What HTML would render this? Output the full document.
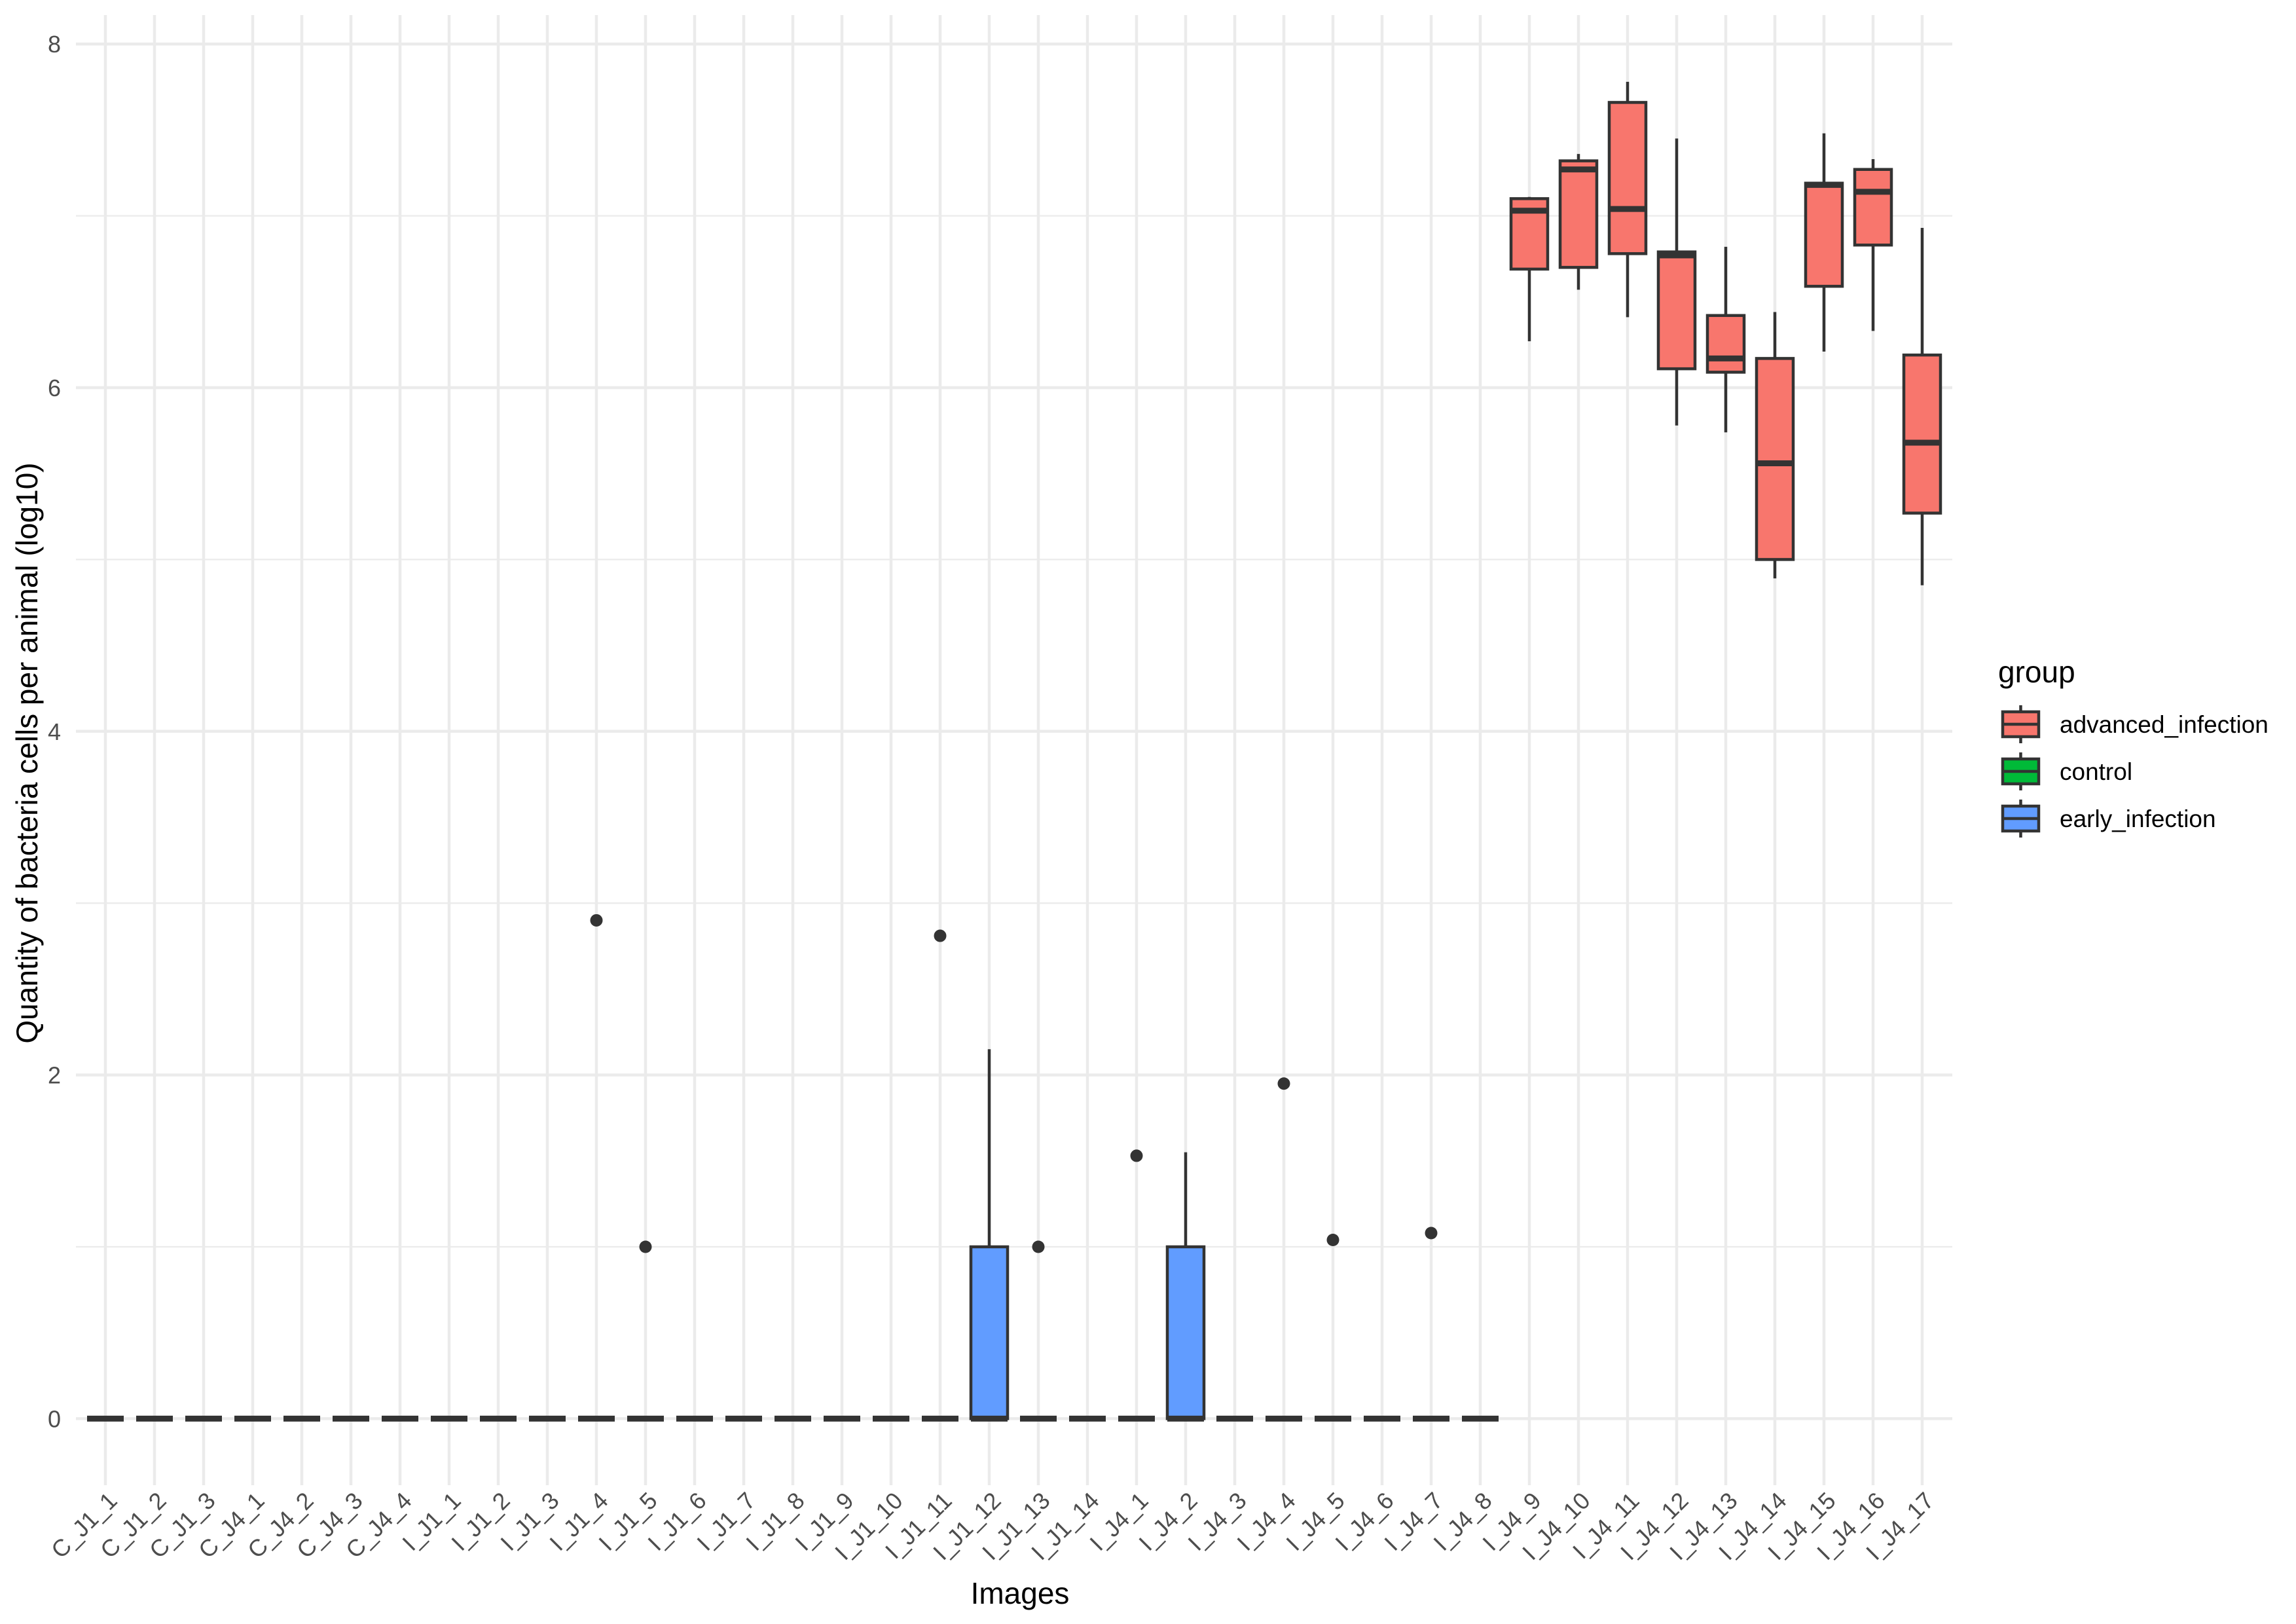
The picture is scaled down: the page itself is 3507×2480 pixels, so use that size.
<!DOCTYPE html>
<html><head><meta charset="utf-8"><style>
html,body{margin:0;padding:0;background:#fff;}
svg{display:block;font-family:"Liberation Sans",Arial,sans-serif;}
</style></head><body>
<svg id="chart" width="3507" height="2480" viewBox="0 0 3507 2480" xmlns="http://www.w3.org/2000/svg">
<g id="grid"></g>
<g id="marks"></g>
<g id="xlabels"></g>
<g id="ylabels"></g>
<text x="1558" y="2449" font-size="46" text-anchor="middle" fill="#000">Images</text>
<text transform="translate(57,1150) rotate(-90)" font-size="46" text-anchor="middle" fill="#000">Quantity of bacteria cells per animal (log10)</text>
<g id="legend">
<text x="3052" y="1042" font-size="46" fill="#000">group</text>
</g>
</svg>
<script>
const categories=["C_J1_1","C_J1_2","C_J1_3","C_J4_1","C_J4_2","C_J4_3","C_J4_4","I_J1_1","I_J1_2","I_J1_3","I_J1_4","I_J1_5","I_J1_6","I_J1_7","I_J1_8","I_J1_9","I_J1_10","I_J1_11","I_J1_12","I_J1_13","I_J1_14","I_J4_1","I_J4_2","I_J4_3","I_J4_4","I_J4_5","I_J4_6","I_J4_7","I_J4_8","I_J4_9","I_J4_10","I_J4_11","I_J4_12","I_J4_13","I_J4_14","I_J4_15","I_J4_16","I_J4_17"];
const groups=["c","c","c","c","c","c","c","e","e","e","e","e","e","e","e","e","e","e","e","e","e","e","e","e","e","e","e","e","e","a","a","a","a","a","a","a","a","a"];
const wLow=[0,0,0,0,0,0,0,0,0,0,0,0,0,0,0,0,0,0,0,0,0,0,0,0,0,0,0,0,0,6.27,6.57,6.41,5.78,5.74,4.89,6.21,6.33,4.85];
const q1=[0,0,0,0,0,0,0,0,0,0,0,0,0,0,0,0,0,0,0,0,0,0,0,0,0,0,0,0,0,6.69,6.70,6.78,6.11,6.09,5.00,6.59,6.83,5.27];
const med=[0,0,0,0,0,0,0,0,0,0,0,0,0,0,0,0,0,0,0,0,0,0,0,0,0,0,0,0,0,7.03,7.27,7.04,6.77,6.17,5.56,7.18,7.14,5.68];
const q3=[0,0,0,0,0,0,0,0,0,0,0,0,0,0,0,0,0,0,1,0,0,0,1,0,0,0,0,0,0,7.10,7.32,7.66,6.79,6.42,6.17,7.19,7.27,6.19];
const wHigh=[0,0,0,0,0,0,0,0,0,0,0,0,0,0,0,0,0,0,2.15,0,0,0,1.55,0,0,0,0,0,0,7.11,7.36,7.78,7.45,6.82,6.44,7.48,7.33,6.93];
const outlierCats=["I_J1_4","I_J1_5","I_J1_11","I_J1_13","I_J4_1","I_J4_4","I_J4_5","I_J4_7"];
const outlierVals=[2.90,1.00,2.81,1.00,1.53,1.95,1.04,1.08];
const yTicks=[0,2,4,6,8];
const yMinor=[1,3,5,7];
const legendKeys=["advanced_infection","control","early_infection"];
const colors={a:"#F8766D",c:"#00BA38",e:"#619CFF"};
const legendColors=["#F8766D","#00BA38","#619CFF"];

const NS="http://www.w3.org/2000/svg";
const PL=116,PR=2982,PT=23,PB=2268;
function xs(i){return 161+i*75.0;}
function ys(v){return 2166.4-v*262.4;}
function mk(tag,attrs,parent){const e=document.createElementNS(NS,tag);for(const k in attrs)e.setAttribute(k,attrs[k]);parent.appendChild(e);return e;}
const grid=document.getElementById('grid'),marks=document.getElementById('marks'),xl=document.getElementById('xlabels'),yl=document.getElementById('ylabels'),lg=document.getElementById('legend');

yMinor.forEach(v=>{const l=mk('line',{x1:PL,x2:PR,y1:ys(v),y2:ys(v),stroke:'#ebebeb','stroke-width':2.3},grid);

});
yTicks.forEach(v=>{const l=mk('line',{x1:PL,x2:PR,y1:ys(v),y2:ys(v),stroke:'#ebebeb','stroke-width':4.5},grid);


const t=mk('text',{x:93,y:ys(v)+13,'font-size':36,'text-anchor':'end',fill:'#4d4d4d'},yl);t.textContent=v;

});
categories.forEach((c,i)=>{const l=mk('line',{x1:xs(i),x2:xs(i),y1:PT,y2:PB,stroke:'#ebebeb','stroke-width':4.5},grid);


const t=mk('text',{transform:`translate(${xs(i)+20},${2294}) rotate(-45)`,'font-size':36,'text-anchor':'end',fill:'#4d4d4d'},xl);
t.textContent=c;

});

const bw=56;
categories.forEach((c,i)=>{
 const g=mk('g',{},marks);
 
 
 const x=xs(i);
 mk('line',{x1:x,x2:x,y1:ys(q3[i]),y2:ys(wHigh[i]),stroke:'#333','stroke-width':4.5},g);
 mk('line',{x1:x,x2:x,y1:ys(q1[i]),y2:ys(wLow[i]),stroke:'#333','stroke-width':4.5},g);
 mk('rect',{x:x-bw/2,y:ys(q3[i]),width:bw,height:ys(q1[i])-ys(q3[i]),fill:colors[groups[i]],stroke:'#333','stroke-width':4.5},g);
 mk('line',{x1:x-bw/2,x2:x+bw/2,y1:ys(med[i]),y2:ys(med[i]),stroke:'#333','stroke-width':9},g);
});
outlierCats.forEach((c,k)=>{const i=categories.indexOf(c);
 const d=mk('circle',{cx:xs(i),cy:ys(outlierVals[k]),r:9.5,fill:'#333'},marks);
 
 });

legendKeys.forEach((k,j)=>{const cy=1106+j*72;
 const g=mk('g',{},lg);
 
 
 mk('line',{x1:3086.5,x2:3086.5,y1:cy-29,y2:cy+29,stroke:'#333','stroke-width':4.5},g);
 mk('rect',{x:3059,y:cy-19,width:55,height:38,fill:legendColors[j],stroke:'#333','stroke-width':4.5},g);
 mk('line',{x1:3059,x2:3114,y1:cy,y2:cy,stroke:'#333','stroke-width':4.5},g);
 const t=mk('text',{x:3146,y:cy+13,'font-size':37,fill:'#000'},g);t.textContent=k;});
</script>
</body></html>
